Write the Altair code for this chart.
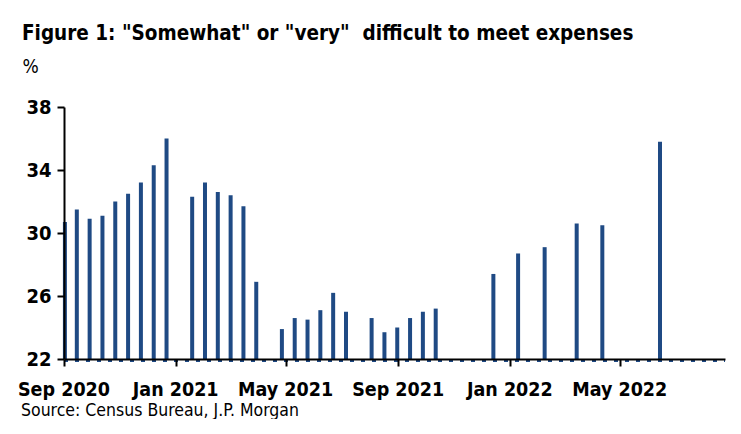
import altair as alt
import pandas as pd

# ---- data ----
dates = [
    "2020-09-02", "2020-09-15", "2020-09-29", "2020-10-13", "2020-10-27",
    "2020-11-10", "2020-11-24", "2020-12-08", "2020-12-22",
    "2021-01-19", "2021-02-02", "2021-02-16", "2021-03-02", "2021-03-16", "2021-03-30",
    "2021-04-27", "2021-05-11", "2021-05-25", "2021-06-08", "2021-06-22", "2021-07-06",
    "2021-08-03", "2021-08-17", "2021-08-31", "2021-09-14", "2021-09-28", "2021-10-12",
    "2021-12-14", "2022-01-10", "2022-02-08", "2022-03-15", "2022-04-12", "2022-06-14",
]
values = [
    30.7, 31.5, 30.9, 31.1, 32.0, 32.5, 33.2, 34.3, 36.0,
    32.3, 33.2, 32.6, 32.4, 31.7, 26.9,
    23.9, 24.6, 24.5, 25.1, 26.2, 25.0,
    24.6, 23.7, 24.0, 24.6, 25.0, 25.2,
    27.4, 28.7, 29.1, 30.6, 30.5, 35.8,
]
tick_dates = ["2020-09-01", "2021-01-01", "2021-05-01", "2021-09-01", "2022-01-01", "2022-05-01"]
tick_labels = ["Sep 2020", "Jan 2021", "May 2021", "Sep 2021", "Jan 2022", "May 2022"]
y_ticks = [22, 26, 30, 34, 38]
y_domain = [22, 38]
x_domain = ["2020-09-01", "2022-08-24"]

title_text = 'Figure 1: "Somewhat" or "very"\u00a0 difficult to meet expenses'
source_text = "Source: Census Bureau, J.P. Morgan"

FONT = "DejaVu Sans Condensed, Liberation Sans Narrow, Arial Narrow, sans-serif"
BLUE = "#1f4a84"


def to_dt(s):
    y, m, d = (int(p) for p in s.split("-"))
    return alt.DateTime(year=y, month=m, date=d, utc=True)


df = pd.DataFrame({"date": dates, "value": values})
ticks_df = pd.DataFrame({"date": tick_dates, "label": tick_labels})

xscale = alt.Scale(type="utc", domain=[to_dt(s) for s in x_domain], nice=False)
xaxis = alt.Axis(
    values=[to_dt(s) for s in tick_dates],
    labels=False,
    title=None,
    tickSize=7,
    tickWidth=2,
    tickColor="black",
    domainColor="black",
    domainWidth=2,
    grid=False,
    zindex=1,
)
yaxis = alt.Axis(
    values=y_ticks,
    title="%",
    titleAngle=0,
    titleAlign="left",
    titleBaseline="alphabetic",
    titleX=-42,
    titleY=-35,
    titleFont=FONT,
    titleFontSize=19,
    titleFontWeight="normal",
    titleColor="black",
    labelFont=FONT,
    labelFontSize=20,
    labelFontWeight="bold",
    labelColor="black",
    labelPadding=6,
    tickSize=7,
    tickWidth=2,
    tickColor="black",
    domainColor="black",
    domainWidth=2,
    grid=False,
    zindex=1,
)

bars = alt.Chart(df).mark_rule(color=BLUE, strokeWidth=4).encode(
    x=alt.X("date:T", scale=xscale, axis=xaxis),
    y=alt.Y("value:Q", scale=alt.Scale(domain=y_domain, nice=False, zero=False), axis=yaxis),
    y2=alt.datum(y_domain[0]),
)

dashes = alt.Chart(df).mark_rule(color=BLUE, strokeWidth=1.6, strokeDash=[4, 7]).encode(
    x=alt.value(0), x2=alt.value(661), y=alt.value(254)
)

xlabels = alt.Chart(ticks_df).mark_text(
    align="center", baseline="alphabetic", font=FONT, fontSize=19.5, fontWeight="bold", color="black"
).encode(x=alt.X("date:T", scale=xscale), y=alt.value(289), text="label:N")

source = alt.Chart(pd.DataFrame({"t": [source_text]})).mark_text(
    align="left", baseline="alphabetic", font=FONT, fontSize=17.5, color="black"
).encode(text="t:N", x=alt.value(-43), y=alt.value(309))

title = alt.Chart(pd.DataFrame({"t": [title_text]})).mark_text(
    align="left", baseline="alphabetic", font=FONT, fontSize=20.5, fontWeight="bold", color="black"
).encode(text="t:N", x=alt.value(-42), y=alt.value(-67))

chart = alt.layer(dashes, bars, xlabels, source, title).properties(
    width=661,
    height=252,
    autosize=alt.AutoSizeParams(type="none"),
    padding={"left": 56, "top": 99, "right": 5, "bottom": 60},
).configure_view(stroke=None)

chart.save("out.html", embed_options={"renderer": "svg", "actions": False})
